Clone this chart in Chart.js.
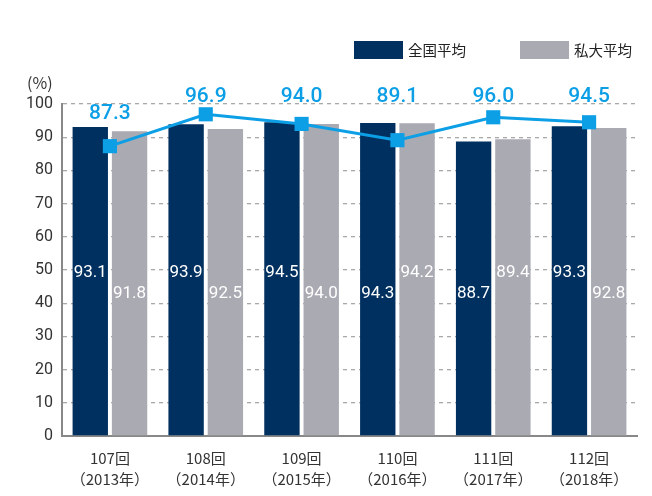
<!DOCTYPE html>
<html><head><meta charset="utf-8">
<script src="https://cdn.jsdelivr.net/npm/chart.js@4"></script>
<style>html,body{margin:0;padding:0;background:#fff}#w{width:652px;height:496px;position:relative}</style>
</head><body><div id="w"><canvas id="c"></canvas></div>
<script>
const categories = [['107回','（2013年）'],['108回','（2014年）'],['109回','（2015年）'],['110回','（2016年）'],['111回','（2017年）'],['112回','（2018年）']];
const nationalAvg = [93.1, 93.9, 94.5, 94.3, 88.7, 93.3];
const privateAvg = [91.8, 92.5, 94.0, 94.2, 89.4, 92.8];
const schoolRate = [87.3, 96.9, 94.0, 89.1, 96.0, 94.5];
const yTicks = [0,10,20,30,40,50,60,70,80,90,100];

const NAVY = '#00305f', GREY = '#a9aab2', BLUE = '#0c9fe6';
const CJK = '"Noto Sans CJK JP", "Noto Sans", sans-serif';
const NUM = 'Roboto, "Noto Sans", sans-serif';

const labelPlugin = {
  id: 'labels',
  afterDraw(chart) {
    const ctx = chart.ctx, y = chart.scales.y;
    ctx.save();
    const rowVals = [49.3, 42.7];
    const rows = {0: [0,0,0,1,1,0], 1: [1,1,1,0,0,1]};
    [1,2].forEach((di, k) => {
      const meta = chart.getDatasetMeta(di);
      const vals = chart.data.datasets[di].data;
      meta.data.forEach((bar, i) => {
        ctx.font = '17px ' + NUM;
        ctx.fillStyle = '#ffffff';
        ctx.textAlign = 'center';
        ctx.textBaseline = 'middle';
        ctx.fillText(vals[i].toFixed(1), bar.x, y.getPixelForValue(rowVals[rows[k][i]]));
      });
    });
    const lineY = [97.0, 102.3, 102.3, 102.3, 102.3, 102.3];
    const lm = chart.getDatasetMeta(0);
    lm.data.forEach((pt, i) => {
      ctx.font = '500 21px ' + NUM;
      ctx.fillStyle = BLUE;
      ctx.textAlign = 'center';
      ctx.textBaseline = 'middle';
      ctx.fillText(chart.data.datasets[0].data[i].toFixed(1), pt.x, y.getPixelForValue(lineY[i]));
    });
    ctx.font = '16px ' + CJK;
    ctx.fillStyle = '#333';
    ctx.textAlign = 'left';
    ctx.textBaseline = 'middle';
    ctx.fillText('(%)', 27, 83);
    const items = [1,2].map(di => chart.data.datasets[di]);
    const lx = [354, 520];
    items.forEach((ds, i) => {
      ctx.fillStyle = ds.backgroundColor;
      ctx.fillRect(lx[i], 41, 49, 18);
      ctx.fillStyle = '#222';
      ctx.font = '14.5px ' + CJK;
      ctx.textBaseline = 'middle';
      ctx.fillText(ds.label, lx[i] + 54, 50);
    });
    ctx.restore();
  }
};

new Chart(document.getElementById('c'), {
  type: 'bar',
  data: {
    labels: categories,
    datasets: [
      { type: 'line', label: '合格率', data: schoolRate, borderColor: BLUE, backgroundColor: BLUE,
        borderWidth: 3, pointStyle: 'rect', pointRadius: 10, pointHoverRadius: 10, pointBorderWidth: 0, order: 0, tension: 0 },
      { label: '全国平均', data: nationalAvg, backgroundColor: NAVY, order: 1, categoryPercentage: 0.82, barPercentage: 0.9 },
      { label: '私大平均', data: privateAvg, backgroundColor: GREY, order: 1, categoryPercentage: 0.82, barPercentage: 0.9 }
    ]
  },
  options: {
    responsive: true, maintainAspectRatio: false, animation: false,
    layout: { padding: { top: 104, right: 15, bottom: 0, left: 0 } },
    plugins: { legend: { display: false }, tooltip: { enabled: false } },
    scales: {
      x: {
        grid: { display: false, drawTicks: false },
        border: { display: true, color: '#888', width: 2 },
        ticks: { color: '#333', font: { family: CJK, size: 15, lineHeight: 1.4 }, padding: 12, maxRotation: 0 },
        afterFit(s) { s.height = 60; }
      },
      y: {
        min: 0, max: 100, z: 1,
        afterBuildTicks(s) { s.ticks = yTicks.map(v => ({ value: v })); },
        grid: { color: 'rgba(110,110,110,0.6)', lineWidth: 1.3, drawTicks: false },
        border: { display: true, color: '#888', width: 2, dash: [4, 4] },
        ticks: { color: '#333', font: { family: NUM, size: 16 }, padding: 9 },
        afterFit(s) { s.width = 62; }
      }
    }
  },
  plugins: [labelPlugin]
});
</script></body></html>
